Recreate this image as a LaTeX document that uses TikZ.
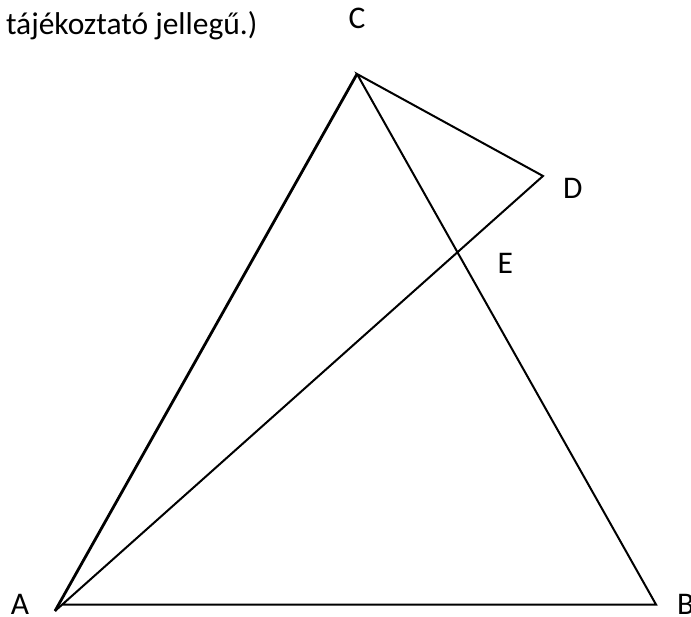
\documentclass[tikz,border=0pt]{standalone}
\usepackage{fontspec}
\setmainfont{Carlito}
\usetikzlibrary{positioning}

\begin{document}
\begin{tikzpicture}[
  x=1pt, y=-1pt,
  font=\fontsize{31.5}{38}\selectfont,
  edge/.style={draw, line width=2pt, line join=miter},
  edgeAC/.style={draw, line width=2.8pt},
  lbl/.style={inner sep=0pt, outer sep=0pt},
]
\useasboundingbox (0,0) rectangle (691,617);

% ---------- points ----------
\coordinate (A)  at (55,611);
\coordinate (Ab) at (62,604.5);
\coordinate (B)  at (656,604.5);
\coordinate (C)  at (357,74);
\coordinate (D)  at (543,176);
\coordinate (E)  at (intersection of A--D and C--B);

% ---------- segments ----------
\draw[edge] (Ab) -- (B) -- (C) -- (D) -- (A);
\draw[edgeAC] (A) -- (C);

% ---------- labels ----------
\node[lbl, above=45pt of C] (labC) {C};
\node[lbl, below right=2pt and 20pt of D] (labD) {D};
\node[lbl, below right=1pt and 40pt of E] (labE) {E};
\node[lbl, left=33pt of Ab] (labA) {A};
\node[lbl, right=21pt of B] (labB) {B};

% ---------- note, top left ----------
\node[lbl, anchor=base west] (note) at (6,35) {tájékoztató jellegű.)};

\end{tikzpicture}
\end{document}
